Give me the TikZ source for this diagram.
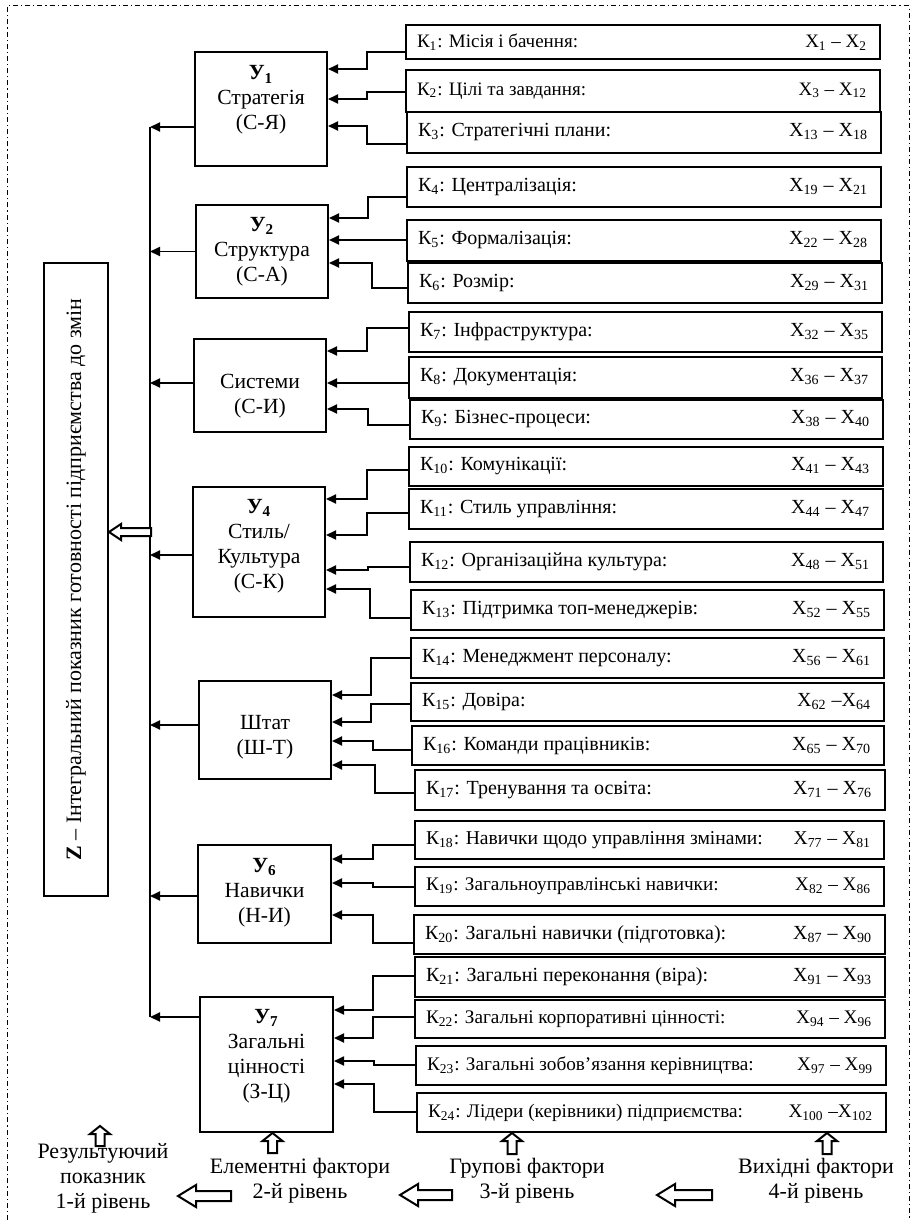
\documentclass[tikz,border=0pt]{standalone}
\usepackage{fontspec}
\setmainfont{Liberation Serif}
\usetikzlibrary{arrows.meta}

% K box: name, x1, y1, x2, y2, font size, label, range
\newcommand\kb[8]{%
  \pgfmathsetmacro\kw{(#4-#2)*0.5}\pgfmathsetmacro\kh{(#5-#3)*0.5}%
  \node[kbox, minimum width=\kw pt, minimum height=\kh pt, font=\fontsize{#6}{#6}\selectfont]
    (#1) at ({(#2+#4)/2},{(#3+#5)/2}) {\hbox to \kw pt{\hspace{5.5pt}#7\hfill #8\hspace{6.5pt}}};}
% Y box: name, x1, y1, x2, y2, text, text lift (pt)
\newcommand\yb[7]{%
  \pgfmathsetmacro\yw{(#4-#2)*0.5}\pgfmathsetmacro\yh{(#5-#3)*0.5}%
  \node[ybox, minimum width=\yw pt, minimum height=\yh pt] (#1) at ({(#2+#4)/2},{(#3+#5)/2})
    {\raisebox{#7pt}[\height][\depth]{\begin{tabular}{@{}c@{}}#6\end{tabular}}};}
% elbow connector: from K, to Y, y out, elbow x, y in
\newcommand\kc[5]{\draw[conn] (#1.west |- 0,#3) -| (#4,#5) -- (#2.east |- 0,#5);}
% hollow arrow pointing left: tip, length, head length, head half-height, shaft half-height
\newcommand\hleft[5]{\draw[hollow] #1 -- ++(#3,-#4) -- ++(0,{#4-#5}) -- ++({#2-#3},0) -- ++(0,{2*#5}) -- ++({#3-#2},0) -- ++(0,{#4-#5}) -- cycle;}
% hollow arrow pointing up: tip, length, head length, head half-width, shaft half-width
\newcommand\hup[5]{\draw[hollow] #1 -- ++(#4,#3) -- ++({#5-#4},0) -- ++(0,{#2-#3}) -- ++({-2*#5},0) -- ++(0,{#3-#2}) -- ++({#5-#4},0) -- cycle;}
\newcommand\sub[1]{\textsubscript{#1}}

\begin{document}
\begin{tikzpicture}[x=0.5pt,y=-0.5pt,
  conn/.style={line width=0.9pt, -{Triangle[length=5pt,width=4.5pt]}},
  busline/.style={line width=0.9pt},
  hollow/.style={draw, line width=1pt, fill=white, line join=miter},
  ybox/.style={draw, line width=1pt, align=center, font=\fontsize{10.8}{12.5}\selectfont, inner sep=0pt},
  kbox/.style={draw, line width=1pt, inner sep=0pt},
  zbox/.style={draw, line width=1pt, inner sep=0pt, font=\fontsize{11}{13}\selectfont},
  legend/.style={align=center, font=\fontsize{11}{12.5}\selectfont, inner sep=0pt},
  border/.style={line width=0.5pt, dash pattern=on 2.5pt off 1.5pt on 0.6pt off 1.5pt}
]
\useasboundingbox (0,0) rectangle (916,1220);
\draw[border] (7,1220) -- (7,6) -- (909,6) -- (909,1220);

% Z box
\node[zbox, minimum width=32pt, minimum height=316.5pt] (z) at (76,579.5)
  {\rotatebox{90}{\textbf{Z} – Інтегральний показник готовності підприємства до змін}};

% Y boxes
\yb{y1}{195}{52}{327}{166}{\textbf{У\sub{1}}\\Стратегія\\(С-Я)}{4.5}
\yb{y2}{196}{205}{328}{298}{\textbf{У\sub{2}}\\Структура\\(С-А)}{0}
\yb{y3}{194}{339}{326}{432}{Системи\\(С-И)}{-5}
\yb{y4}{193}{487}{325}{617}{\textbf{У\sub{4}}\\Стиль/\\Культура\\(С-К)}{3}
\yb{y5}{199}{681}{331}{779}{Штат\\(Ш-Т)}{-3.5}
\yb{y6}{198}{845}{331}{943}{\textbf{У\sub{6}}\\Навички\\(Н-И)}{1}
\yb{y7}{200}{997}{333}{1132}{\textbf{У\sub{7}}\\Загальні\\цінності\\(З-Ц)}{4.5}

% K boxes
\kb{k1}{406}{25}{880}{59}{9.5}{К\sub{1}: Місія і бачення:}{X\sub{1} – X\sub{2}}
\kb{k2}{406}{70}{880}{112}{9.5}{К\sub{2}: Цілі та завдання:}{X\sub{3} – X\sub{12}}
\kb{k3}{407}{112}{881}{153}{10}{К\sub{3}: Стратегічні плани:}{X\sub{13} – X\sub{18}}
\kb{k4}{407}{167}{881}{207}{10}{К\sub{4}: Централізація:}{X\sub{19} – X\sub{21}}
\kb{k5}{407}{220}{881}{261}{10}{К\sub{5}: Формалізація:}{X\sub{22} – X\sub{28}}
\kb{k6}{408}{263}{882}{303}{10}{К\sub{6}: Розмір:}{X\sub{29} – X\sub{31}}
\kb{k7}{409}{312}{882}{352}{10}{К\sub{7}: Інфраструктура:}{X\sub{32} – X\sub{35}}
\kb{k8}{409}{357}{882}{398}{10}{К\sub{8}: Документація:}{X\sub{36} – X\sub{37}}
\kb{k9}{410}{400}{883}{439}{10}{К\sub{9}: Бізнес-процеси:}{X\sub{38} – X\sub{40}}
\kb{k10}{409}{447}{883}{486}{10}{К\sub{10}: Комунікації:}{X\sub{41} – X\sub{43}}
\kb{k11}{409}{489}{883}{529}{10}{К\sub{11}: Стиль управління:}{X\sub{44} – X\sub{47}}
\kb{k12}{410}{542}{883}{582}{10}{К\sub{12}: Організаційна культура:}{X\sub{48} – X\sub{51}}
\kb{k13}{411}{590}{884}{630}{10}{К\sub{13}: Підтримка топ-менеджерів:}{X\sub{52} – X\sub{55}}
\kb{k14}{411}{638}{884}{678}{10}{К\sub{14}: Менеджмент персоналу:}{X\sub{56} – X\sub{61}}
\kb{k15}{411}{683}{884}{721}{10}{К\sub{15}: Довіра:}{X\sub{62} –X\sub{64}}
\kb{k16}{412}{726}{884}{765}{10}{К\sub{16}: Команди працівників:}{X\sub{65} – X\sub{70}}
\kb{k17}{415}{770}{885}{810}{10}{К\sub{17}: Тренування та освіта:}{X\sub{71} – X\sub{76}}
\kb{k18}{415}{821}{884}{859}{9.8}{К\sub{18}: Навички щодо управління змінами:}{X\sub{77} – X\sub{81}}
\kb{k19}{415}{867}{884}{906}{9.6}{К\sub{19}: Загальноуправлінські навички:}{X\sub{82} – X\sub{86}}
\kb{k20}{414}{915}{885}{954}{10}{К\sub{20}: Загальні навички (підготовка):}{X\sub{87} – X\sub{90}}
\kb{k21}{415}{957}{885}{997}{10}{К\sub{21}: Загальні переконання (віра):}{X\sub{91} – X\sub{93}}
\kb{k22}{415}{1000}{885}{1038}{9.6}{К\sub{22}: Загальні корпоративні цінності:}{X\sub{94} – X\sub{96}}
\kb{k23}{416}{1046}{886}{1085}{9.6}{К\sub{23}: Загальні зобов’язання керівництва:}{X\sub{97} – X\sub{99}}
\kb{k24}{417}{1093}{886}{1132}{9.6}{К\sub{24}: Лідери (керівники) підприємства:}{X\sub{100} –X\sub{102}}

% K -> Y connectors
\kc{k1}{y1}{52}{367}{69}
\kc{k2}{y1}{92}{367}{99}
\kc{k3}{y1}{144}{367}{126}
\kc{k4}{y2}{197}{368}{218}
\draw[conn] (k5.west |- 0,240) -- (y2.east |- 0,240);
\kc{k6}{y2}{288}{372}{263}
\kc{k7}{y3}{328}{367}{351}
\draw[conn] (k8.west |- 0,383) -- (y3.east |- 0,383);
\kc{k9}{y3}{425}{368}{409}
\kc{k10}{y4}{470}{367}{499}
\kc{k11}{y4}{513}{367}{535}
\kc{k12}{y4}{567}{368}{570}
\kc{k13}{y4}{618}{370}{589}
\kc{k14}{y5}{658}{371}{695}
\kc{k15}{y5}{704}{371}{722}
\kc{k16}{y5}{750}{373}{741}
\kc{k17}{y5}{793}{375}{765}
\kc{k18}{y6}{845}{373}{859}
\kc{k19}{y6}{887}{373}{883}
\kc{k20}{y6}{943}{373}{915}
\kc{k21}{y7}{976}{373}{1010}
\kc{k22}{y7}{1017}{373}{1038}
\kc{k23}{y7}{1065}{374}{1061}
\kc{k24}{y7}{1112}{374}{1084}

% bus
\coordinate (bustop) at (150,127);
\coordinate (busbot) at (150,1017);
\draw[busline] (bustop) -- (busbot);
\draw[conn] (y1.west |- bustop) -- (bustop);
\draw[conn] (y2.west) -- (y2.west -| bustop);
\draw[conn] (y3.west |- 0,383) -- (bustop |- 0,383);
\draw[conn] (y4.west |- 0,555) -- (bustop |- 0,555);
\draw[conn] (y5.west |- 0,725) -- (bustop |- 0,725);
\draw[conn] (y6.west |- 0,896) -- (bustop |- 0,896);
\draw[conn] (y7.west |- busbot) -- (busbot);

% hollow arrow bus -> Z
\hleft{(z.east |- 0,532)}{42}{12}{8}{4}

% legend
\node[legend] (res) at (103,1178) {Результуючий\\показник\\1-й рівень};
\node[legend] (elem) at (300,1181) {Елементні фактори\\2-й рівень};
\node[legend] (grp) at (527,1181) {Групові фактори\\3-й рівень};
\node[legend] (src) at (816,1181) {Вихідні фактори\\4-й рівень};

\hup{(100,1126)}{20}{8}{10}{4.5}
\hup{([xshift=3pt]y7.south)}{20}{8}{10}{4.5}
\hup{(512,0 |- k24.south)}{21}{8}{10}{4.5}
\hup{(827,0 |- k24.south)}{21}{8}{10}{4.5}

\hleft{(178,1196)}{53}{18}{11}{5}
\hleft{(400,1195)}{52}{18}{11}{5}
\hleft{(657,1195)}{55}{18}{11}{5}
\end{tikzpicture}
\end{document}
